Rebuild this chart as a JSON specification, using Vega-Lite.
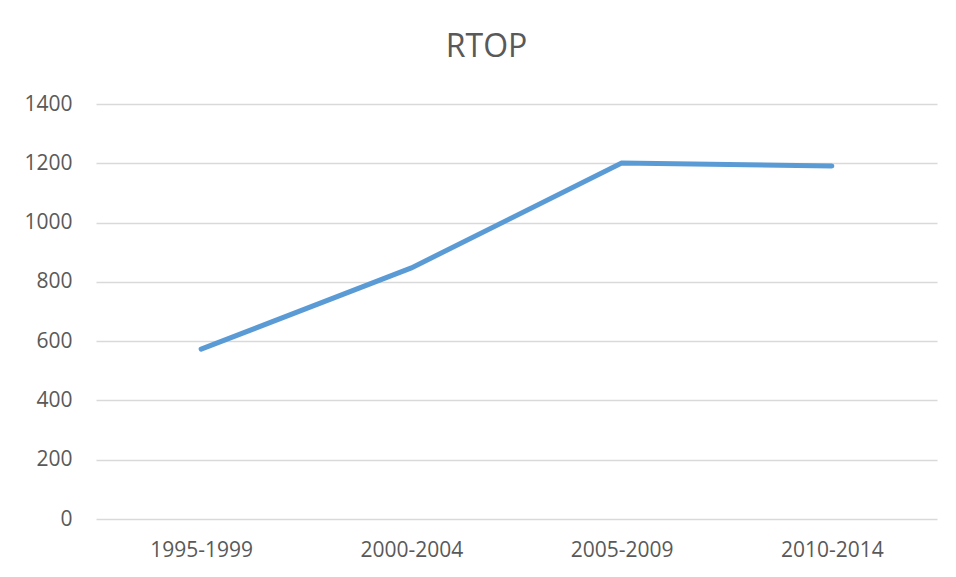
{
  "$schema": "https://vega.github.io/schema/vega-lite/v6.json",
  "autosize": {"type": "none"},
  "width": 841,
  "height": 415,
  "padding": {"left": 96, "top": 104, "right": 19, "bottom": 58},
  "background": "white",
  "title": {"text": "RTOP", "font": "Open Sans", "fontSize": 32, "fontWeight": "normal", "color": "#595959", "anchor": "middle", "dx": -30, "offset": 29},
  "data": {"values": [
    {"period": "1995-1999", "value": 573},
    {"period": "2000-2004", "value": 847},
    {"period": "2005-2009", "value": 1201},
    {"period": "2010-2014", "value": 1191}
  ]},
  "mark": {"type": "line", "color": "#5B9BD5", "strokeWidth": 5, "strokeCap": "round", "strokeJoin": "miter"},
  "encoding": {
    "x": {"field": "period", "type": "ordinal", "scale": {"type": "point", "padding": 0.5},
      "axis": {"title": null, "labelAngle": 0, "domain": false, "ticks": false, "grid": false, "labelFont": "Open Sans", "labelFontSize": 21, "labelColor": "#595959", "labelPadding": 20}},
    "y": {"field": "value", "type": "quantitative", "scale": {"domain": [0, 1400]},
      "axis": {"title": null, "format": "d", "values": [0, 200, 400, 600, 800, 1000, 1200, 1400], "domain": false, "ticks": false, "grid": true, "gridColor": "#D9D9D9", "gridWidth": 1.5, "labelFont": "Open Sans", "labelFontSize": 21, "labelColor": "#595959", "labelPadding": 24}}
  },
  "config": {"view": {"stroke": null}}
}
